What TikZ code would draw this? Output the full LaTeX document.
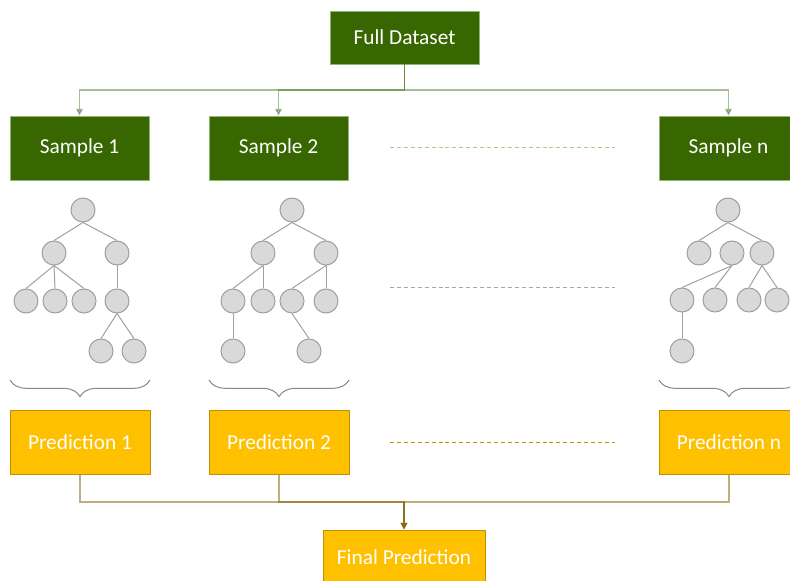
\documentclass[tikz,border=0pt]{standalone}
\usepackage{fontspec}
\setmainfont{Carlito}
\usetikzlibrary{arrows.meta,decorations.pathreplacing}
\definecolor{dgreen}{HTML}{386600}
\definecolor{gborder}{HTML}{8FB873}
\definecolor{gline}{HTML}{4E7F2E}
\definecolor{gold}{HTML}{FFC000}
\definecolor{goldborder}{HTML}{BF9000}
\definecolor{goldline}{HTML}{7F6000}
\definecolor{nodefill}{HTML}{D9D9D9}
\definecolor{nodeline}{HTML}{A0A0A0}
\definecolor{dashgreen}{HTML}{A9C98F}
\definecolor{dashgray}{HTML}{A6A6A6}
\begin{document}
\begin{tikzpicture}[x=0.75pt,y=-0.75pt,
  lbl/.style={text=white,font=\fontsize{16}{19}\selectfont},
  greenbox/.style={lbl,rectangle,fill=dgreen,draw=gborder,line width=0.6pt,inner sep=0pt},
  goldbox/.style={lbl,rectangle,fill=gold,draw=goldborder,line width=0.75pt,inner sep=0pt},
  tnode/.style={circle,minimum size=18pt,inner sep=0pt,fill=nodefill,draw=nodeline,line width=0.75pt},
  tedge/.style={draw=nodeline,line width=0.75pt},
  topconn/.style={draw=gline,opacity=0.5,line width=1pt,-{Triangle[length=5pt,width=5pt]}},
  botconn/.style={draw=goldline,opacity=0.5,line width=1pt,-{Triangle[length=5pt,width=5pt]}},
  bracestyle/.style={draw=nodeline!85!black,line width=0.75pt,decorate,decoration={brace,mirror,amplitude=12.5pt}},
  dotsline/.style={line width=0.75pt,dash pattern=on 3pt off 2.2pt}
]
\useasboundingbox (0,0) rectangle (790,581);
\clip (0,0) rectangle (790,581);

% top boxes
\node[greenbox,minimum width=111.75pt,minimum height=39.75pt] (fd) at (404.5,37.5) {Full Dataset};
\node[greenbox,minimum width=104.25pt,minimum height=48pt] (s1) at (79.5,148) {Sample 1};
\node[greenbox,minimum width=104.25pt,minimum height=48pt] (s2) at (278.5,148) {Sample 2};
\node[greenbox,minimum width=104.25pt,minimum height=48pt] (sn) at (728.5,148) {Sample n};

\coordinate (tj) at (404.5,90);
\draw[topconn] (fd.south) -- (tj) -| (s1.north);
\draw[topconn] (fd.south) -- (tj) -| (s2.north);
\draw[topconn] (fd.south) -- (tj) -| (sn.north);

% dashed separators
\coordinate (d1a) at (390,148); \coordinate (d1b) at (615,148);
\coordinate (d2a) at (390,288); \coordinate (d2b) at (615,288);
\coordinate (d3a) at (390,442); \coordinate (d3b) at (615,442);
\draw[dotsline,draw=dashgreen] (d1a) -- (d1b);
\draw[dotsline,draw=dashgray] (d2a) -- (d2b);
\draw[dotsline,draw=goldborder] (d3a) -- (d3b);

% tree 1
\node[tnode] (t1r) at (83,210) {};
\node[tnode] (t1a) at (54,253) {};
\node[tnode] (t1b) at (117,253) {};
\node[tnode] (t1c) at (26,301) {};
\node[tnode] (t1d) at (55,301) {};
\node[tnode] (t1e) at (84,301) {};
\node[tnode] (t1f) at (117,301) {};
\node[tnode] (t1g) at (101,351) {};
\node[tnode] (t1h) at (134,351) {};
\draw[tedge] (t1r.south) -- (t1a.north);
\draw[tedge] (t1r.south) -- (t1b.north);
\draw[tedge] (t1a.south) -- (t1c.north);
\draw[tedge] (t1a.south) -- (t1d.north);
\draw[tedge] (t1a.south) -- (t1e.north);
\draw[tedge] (t1b.south) -- (t1f.north);
\draw[tedge] (t1f.south) -- (t1g.north);
\draw[tedge] (t1f.south) -- (t1h.north);

% tree 2
\node[tnode] (t2r) at (292,210) {};
\node[tnode] (t2a) at (263,253) {};
\node[tnode] (t2b) at (326,253) {};
\node[tnode] (t2c) at (233,301) {};
\node[tnode] (t2d) at (263,301) {};
\node[tnode] (t2e) at (292,301) {};
\node[tnode] (t2f) at (326,301) {};
\node[tnode] (t2g) at (233,351) {};
\node[tnode] (t2h) at (309,351) {};
\draw[tedge] (t2r.south) -- (t2a.north);
\draw[tedge] (t2r.south) -- (t2b.north);
\draw[tedge] (t2a.south) -- (t2c.north);
\draw[tedge] (t2a.south) -- (t2d.north);
\draw[tedge] (t2b.south) -- (t2e.north);
\draw[tedge] (t2b.south) -- (t2f.north);
\draw[tedge] (t2c.south) -- (t2g.north);
\draw[tedge] (t2e.south) -- (t2h.north);

% tree n
\node[tnode] (t3r) at (728,210) {};
\node[tnode] (t3a) at (699,253) {};
\node[tnode] (t3b) at (732,253) {};
\node[tnode] (t3c) at (762,253) {};
\node[tnode] (t3d) at (682,300) {};
\node[tnode] (t3e) at (715,300) {};
\node[tnode] (t3f) at (749,300) {};
\node[tnode] (t3g) at (777,300) {};
\node[tnode] (t3h) at (682,351) {};
\draw[tedge] (t3r.south) -- (t3a.north);
\draw[tedge] (t3r.south) -- (t3c.north);
\draw[tedge] (t3b.south) -- (t3d.north);
\draw[tedge] (t3b.south) -- (t3e.north);
\draw[tedge] (t3c.south) -- (t3f.north);
\draw[tedge] (t3c.south) -- (t3g.north);
\draw[tedge] (t3d.south) -- (t3h.north);

% braces
\coordinate (b1a) at (10,380); \coordinate (b1b) at (150,380);
\coordinate (b2a) at (209,380); \coordinate (b2b) at (349,380);
\coordinate (b3a) at (659,380); \coordinate (b3b) at (799,380);
\draw[bracestyle] (b1a) -- (b1b);
\draw[bracestyle] (b2a) -- (b2b);
\draw[bracestyle] (b3a) -- (b3b);

% predictions
\node[goldbox,minimum width=105pt,minimum height=48pt] (p1) at (80,442) {Prediction 1};
\node[goldbox,minimum width=105pt,minimum height=48pt] (p2) at (279,442) {Prediction 2};
\node[goldbox,minimum width=105pt,minimum height=48pt] (pn) at (729,442) {Prediction n};
\node[goldbox,minimum width=121.5pt,minimum height=40.5pt] (fp) at (404,557) {Final Prediction};

\coordinate (bj) at (404,502);
\draw[botconn] (p1.south) |- (bj) -- (fp.north);
\draw[botconn] (p2.south) |- (bj) -- (fp.north);
\draw[botconn] (pn.south) |- (bj) -- (fp.north);
\end{tikzpicture}
\end{document}
